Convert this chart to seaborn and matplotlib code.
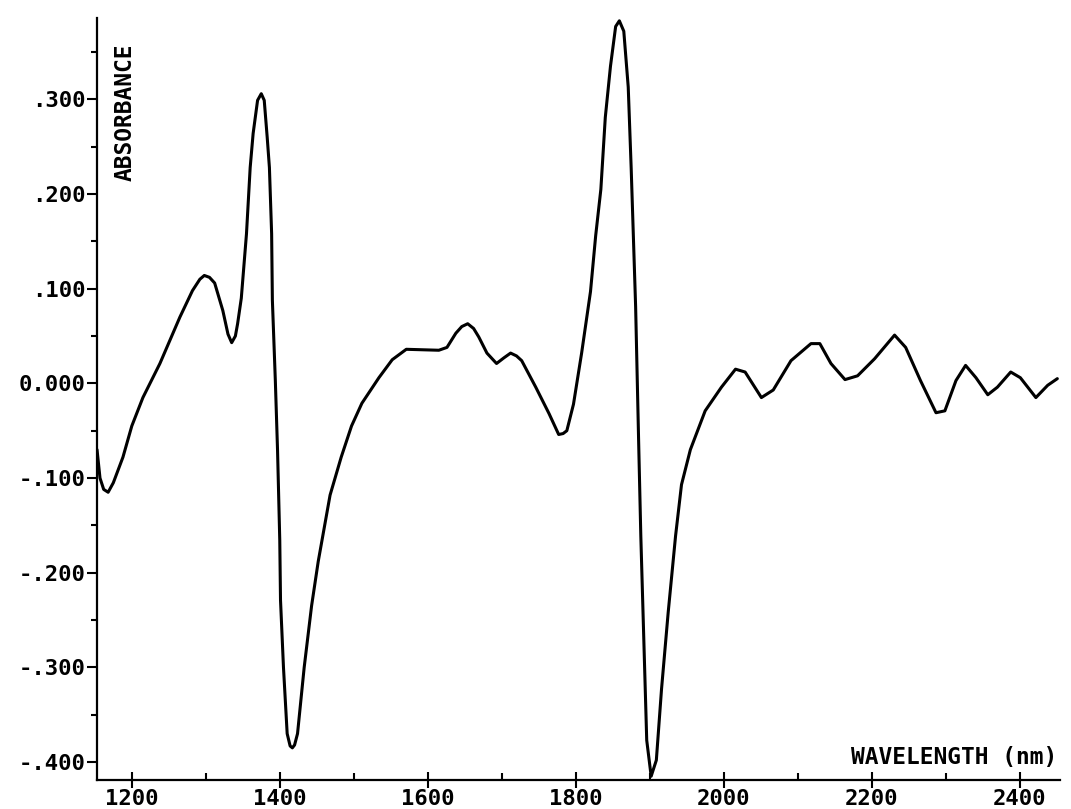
import matplotlib
matplotlib.use("Agg")
import matplotlib.pyplot as plt
import seaborn as sns
import pandas as pd
from matplotlib.ticker import MultipleLocator

# ---- data ----
wavelength = [1153, 1157, 1162, 1168, 1175, 1188, 1200, 1215, 1238, 1265,
              1282, 1292, 1298, 1305, 1312, 1323, 1330, 1335, 1340, 1343,
              1348, 1355, 1360, 1364, 1370, 1375, 1379, 1383, 1386, 1389,
              1390, 1394, 1397, 1400, 1401, 1405, 1410, 1414, 1417, 1420,
              1424, 1433, 1443, 1452, 1468, 1483, 1497, 1511, 1534, 1552,
              1571, 1615, 1626, 1638, 1646, 1654, 1662, 1669, 1680, 1693,
              1703, 1712, 1720, 1727, 1746, 1764, 1777, 1783, 1788, 1797,
              1808, 1820, 1827, 1834, 1840, 1847, 1854, 1859, 1865, 1871,
              1875, 1881, 1885, 1888, 1892, 1896, 1902, 1909, 1916, 1925,
              1935, 1943, 1955, 1975, 1997, 2016, 2029, 2051, 2067, 2091,
              2118, 2130, 2145, 2164, 2181, 2204, 2231, 2246, 2266, 2287,
              2299, 2314, 2327, 2341, 2357, 2370, 2388, 2401, 2422, 2438,
              2451]
absorbance = [-0.070, -0.100, -0.112, -0.115, -0.105, -0.078, -0.045, -0.015, 0.021, 0.070,
              0.098, 0.110, 0.114, 0.112, 0.106, 0.077, 0.052, 0.043, 0.050, 0.063,
              0.090, 0.158, 0.228, 0.264, 0.299, 0.306, 0.299, 0.260, 0.228, 0.158,
              0.088, 0.003, -0.071, -0.166, -0.229, -0.300, -0.370, -0.383, -0.385, -0.382,
              -0.370, -0.300, -0.235, -0.188, -0.118, -0.078, -0.045, -0.021, 0.006, 0.025,
              0.036, 0.035, 0.038, 0.053, 0.060, 0.063, 0.058, 0.049, 0.032, 0.021,
              0.027, 0.032, 0.029, 0.024, -0.004, -0.032, -0.054, -0.053, -0.050, -0.022,
              0.032, 0.097, 0.156, 0.205, 0.281, 0.335, 0.377, 0.383, 0.372, 0.313,
              0.227, 0.081, -0.059, -0.161, -0.269, -0.377, -0.415, -0.398, -0.323, -0.242,
              -0.161, -0.107, -0.070, -0.029, -0.004, 0.015, 0.012, -0.015, -0.007, 0.024,
              0.042, 0.042, 0.021, 0.004, 0.008, 0.026, 0.051, 0.038, 0.003, -0.031,
              -0.029, 0.003, 0.019, 0.006, -0.012, -0.004, 0.012, 0.006, -0.015, -0.002,
              0.005]

x_ticks = [1200, 1400, 1600, 1800, 2000, 2200, 2400]
x_tick_labels = ["1200", "1400", "1600", "1800", "2000", "2200", "2400"]
y_ticks = [-0.4, -0.3, -0.2, -0.1, 0.0, 0.1, 0.2, 0.3]
y_tick_labels = ["-.400", "-.300", "-.200", "-.100", "0.000", ".100", ".200", ".300"]

df = pd.DataFrame({"wavelength": wavelength, "absorbance": absorbance})

sns.set_style("white")
plt.rcParams["font.family"] = ["DejaVu Sans Mono", "DejaVu Sans"]
plt.rcParams["font.weight"] = "bold"
plt.rcParams["text.color"] = "black"
plt.rcParams["xtick.color"] = "black"
plt.rcParams["ytick.color"] = "black"

fig = plt.figure(figsize=(10.71, 8.09), dpi=100)
ax = fig.add_axes([0.0906, 0.0358, 0.8994, 0.942])

sns.lineplot(data=df, x="wavelength", y="absorbance", ax=ax, color="black",
             linewidth=2.2, sort=False, estimator=None)

ax.set_xlim(1153, 2455)
ax.set_ylim(-0.419, 0.386)

for s in ["top", "right"]:
    ax.spines[s].set_visible(False)
for s in ["left", "bottom"]:
    ax.spines[s].set_linewidth(1.6)
    ax.spines[s].set_color("black")

ax.set_xticks(x_ticks)
ax.set_xticklabels(x_tick_labels, fontsize=16, fontweight="bold", color="black")
ax.set_yticks(y_ticks)
ax.set_yticklabels(y_tick_labels, fontsize=16, fontweight="bold", color="black")
ax.xaxis.set_minor_locator(MultipleLocator(100))
ax.yaxis.set_minor_locator(MultipleLocator(0.05))

ax.tick_params(axis="x", which="major", bottom=True, direction="inout", length=11,
               width=1.5, pad=1, colors="black")
ax.tick_params(axis="x", which="minor", bottom=True, direction="in", length=5,
               width=1.5, colors="black")
ax.tick_params(axis="y", which="major", left=True, direction="out", length=7,
               width=1.5, pad=1, colors="black")
ax.tick_params(axis="y", which="minor", left=True, direction="out", length=4,
               width=1.5, colors="black")

ax.set_xlabel("")
ax.set_ylabel("")

ax.text(0.029, 0.967, "ABSORBANCE", transform=ax.transAxes, rotation=90,
        ha="center", va="top", fontsize=16.5, fontweight="bold", color="black")
ax.text(0.997, 0.014, "WAVELENGTH (nm)", transform=ax.transAxes,
        ha="right", va="bottom", fontsize=16.5, fontweight="bold", color="black")

fig.savefig("out.png", dpi=100, facecolor="white")
